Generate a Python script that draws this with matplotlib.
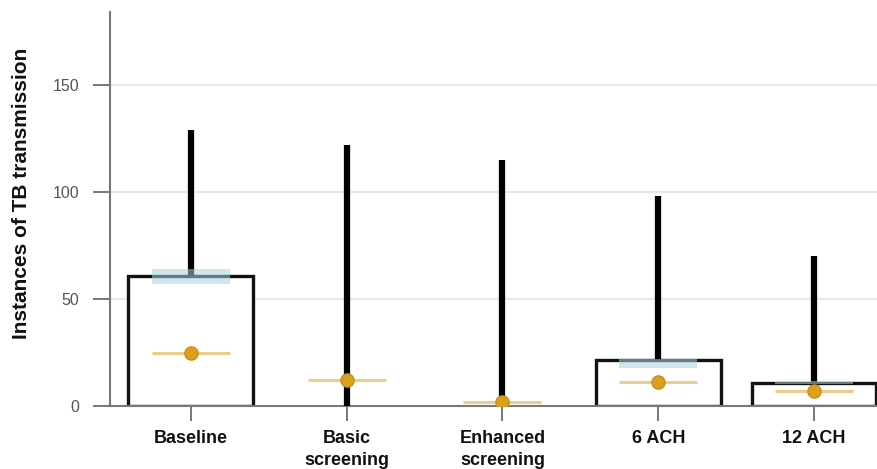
import numpy as np
import matplotlib
matplotlib.use("Agg")
import matplotlib.pyplot as plt

plt.rcParams['font.family'] = ['Liberation Sans', 'DejaVu Sans']

categories = ["Baseline", "Basic\nscreening", "Enhanced\nscreening", "6 ACH", "12 ACH"]
mean_values = [61, np.nan, np.nan, 21.5, 11]
mean_ci_low = [57, np.nan, np.nan, 18, 10.3]
mean_ci_high = [64, np.nan, np.nan, 22, 11.7]
range_low = [61, 0, 0, 21.5, 11]
range_high = [129, 122, 115, 98, 70]
medians = [25, 12, 2, 11.5, 7]
yticks = [0, 50, 100, 150]

fig = plt.figure(figsize=(8.78, 4.69), dpi=100)
ax = fig.add_axes([0.125, 0.134, 0.875, 0.840])

x = np.arange(len(categories))
mean_arr = np.array(mean_values, dtype=float)
lo = np.array(mean_ci_low, dtype=float)
hi = np.array(mean_ci_high, dtype=float)

# gridlines
for t in yticks[1:]:
    ax.axhline(t, color="#e8e8e8", lw=1.5, zorder=0)

# mean boxes
has_mean = ~np.isnan(mean_arr)
ax.bar(x[has_mean], mean_arr[has_mean], width=0.8, facecolor="white",
       edgecolor="#111111", linewidth=2.4, zorder=2)

# range lines
ax.vlines(x, range_low, range_high, color="black", linewidth=4.5, zorder=3)

# confidence band of the mean
ax.bar(x[has_mean], (hi - lo)[has_mean], bottom=lo[has_mean], width=0.5,
       color="#a9d3e3", alpha=0.55, linewidth=0, zorder=4)

# medians
ax.hlines(medians, x - 0.25, x + 0.25, color="#eccd8e", linewidth=2.2, zorder=5)
ax.plot(x, medians, "o", color="#d9a11c", markeredgecolor="#c8901a",
        markersize=9.5, zorder=6)

ax.set_xlim(-0.52, 4.41)
ax.set_ylim(0, 184)
ax.set_yticks(yticks)
ax.set_xticks(x)
ax.set_xticklabels(categories, fontsize=13, fontweight="bold", color="#111111",
                   linespacing=1.4)
ax.tick_params(axis="y", length=12, width=1.4, color="#777777", labelcolor="#555555",
               labelsize=11.5, pad=10)
ax.tick_params(axis="x", length=11, width=1.4, color="#777777", pad=6)
ax.set_ylabel("Instances of TB transmission", fontsize=15, fontweight="bold",
              color="#111111")
ax.yaxis.set_label_coords(-0.103, 0.541)

for side in ["top", "right"]:
    ax.spines[side].set_visible(False)
for side in ["left", "bottom"]:
    ax.spines[side].set_color("#777777")
    ax.spines[side].set_linewidth(1.5)

fig.savefig("out.png", dpi=100)
